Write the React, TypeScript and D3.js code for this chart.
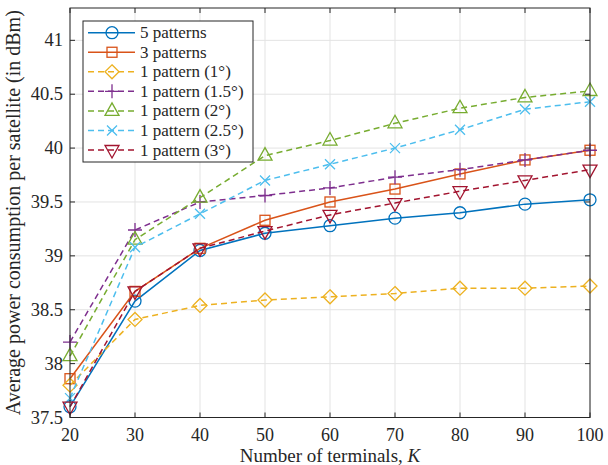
import React from "react";
import * as d3 from "d3";

const terminals = [20, 30, 40, 50, 60, 70, 80, 90, 100];

const fivePatterns = [37.6, 38.58, 39.05, 39.21, 39.28, 39.35, 39.4, 39.48, 39.52];
const threePatterns = [37.86, 38.67, 39.07, 39.33, 39.5, 39.62, 39.76, 39.89, 39.98];
const onePattern1 = [37.8, 38.41, 38.54, 38.59, 38.62, 38.65, 38.7, 38.7, 38.72];
const onePattern15 = [38.2, 39.24, 39.5, 39.56, 39.63, 39.73, 39.8, 39.89, 39.98];
const onePattern2 = [38.07, 39.15, 39.54, 39.93, 40.07, 40.23, 40.37, 40.47, 40.53];
const onePattern25 = [37.68, 39.08, 39.39, 39.7, 39.85, 40.0, 40.17, 40.36, 40.43];
const onePattern3 = [37.6, 38.67, 39.07, 39.23, 39.38, 39.49, 39.6, 39.7, 39.8];

const xTicks = [20, 30, 40, 50, 60, 70, 80, 90, 100];
const yTicks = [37.5, 38, 38.5, 39, 39.5, 40, 40.5, 41];

type Marker = "circle" | "square" | "diamond" | "plus" | "triangle" | "cross" | "down";

const series: { name: string; values: number[]; color: string; dashed: boolean; marker: Marker }[] = [
  { name: "5 patterns", values: fivePatterns, color: "#0072BD", dashed: false, marker: "circle" },
  { name: "3 patterns", values: threePatterns, color: "#D95319", dashed: false, marker: "square" },
  { name: "1 pattern (1°)", values: onePattern1, color: "#EDB120", dashed: true, marker: "diamond" },
  { name: "1 pattern (1.5°)", values: onePattern15, color: "#7E2F8E", dashed: true, marker: "plus" },
  { name: "1 pattern (2°)", values: onePattern2, color: "#77AC30", dashed: true, marker: "triangle" },
  { name: "1 pattern (2.5°)", values: onePattern25, color: "#4DBEEE", dashed: true, marker: "cross" },
  { name: "1 pattern (3°)", values: onePattern3, color: "#A2142F", dashed: true, marker: "down" },
];

const W = 608;
const H = 465;
const m = { left: 70, right: 18, top: 8, bottom: 47.5 };
const font = '"Liberation Serif", "DejaVu Serif", serif';

function MarkerShape({ kind, x, y, color }: { kind: Marker; x: number; y: number; color: string }) {
  const p = { fill: "none", stroke: color, strokeWidth: 1.3 };
  switch (kind) {
    case "circle":
      return <circle cx={x} cy={y} r={6} {...p} />;
    case "square":
      return <rect x={x - 5} y={y - 5} width={10} height={10} {...p} />;
    case "diamond":
      return <path d={`M${x},${y - 7}L${x + 7},${y}L${x},${y + 7}L${x - 7},${y}Z`} {...p} />;
    case "plus":
      return <path d={`M${x - 7},${y}H${x + 7}M${x},${y - 7}V${y + 7}`} {...p} />;
    case "cross":
      return <path d={`M${x - 5},${y - 5}L${x + 5},${y + 5}M${x - 5},${y + 5}L${x + 5},${y - 5}`} {...p} />;
    case "triangle":
      return <path d={`M${x},${y - 8}L${x + 7},${y + 4.5}L${x - 7},${y + 4.5}Z`} {...p} />;
    case "down":
      return <path d={`M${x},${y + 8}L${x + 7},${y - 4.5}L${x - 7},${y - 4.5}Z`} {...p} />;
  }
}

export default function App() {
  const x = d3.scaleLinear().domain([20, 100]).range([m.left, W - m.right]);
  const y = d3.scaleLinear().domain([37.5, 41.3]).range([H - m.bottom, m.top]);
  const line = d3
    .line<number>()
    .x((_, i) => x(terminals[i]))
    .y((d) => y(d));

  const x0 = m.left;
  const x1 = W - m.right;
  const y0 = H - m.bottom;
  const y1 = m.top;

  const lg = { x: 83, y: 21, w: 170, h: 141, row: 19.55 };

  return (
    <svg width={W} height={H} style={{ position: "absolute", left: 0, top: 0, background: "#fff", fontFamily: font }}>
      {/* grid */}
      {xTicks.map((t) => (
        <line key={"gx" + t} x1={x(t)} x2={x(t)} y1={y0} y2={y1} stroke="#e3e3e3" strokeWidth={1} />
      ))}
      {yTicks.map((t) => (
        <line key={"gy" + t} x1={x0} x2={x1} y1={y(t)} y2={y(t)} stroke="#e3e3e3" strokeWidth={1} />
      ))}

      {/* series */}
      {series.map((s) => (
        <g key={s.name}>
          <path
            d={line(s.values) ?? ""}
            fill="none"
            stroke={s.color}
            strokeWidth={1.5}
            strokeDasharray={s.dashed ? "6,4" : undefined}
          />
          {s.values.map((v, i) => (
            <MarkerShape key={i} kind={s.marker} x={x(terminals[i])} y={y(v)} color={s.color} />
          ))}
        </g>
      ))}

      {/* axes box + ticks */}
      <rect x={x0} y={y1} width={x1 - x0} height={y0 - y1} fill="none" stroke="#262626" strokeWidth={1} />
      {xTicks.map((t) => (
        <g key={"tx" + t}>
          <line x1={x(t)} x2={x(t)} y1={y0} y2={y0 - 5} stroke="#262626" />
          <line x1={x(t)} x2={x(t)} y1={y1} y2={y1 + 5} stroke="#262626" />
          <text x={x(t)} y={y0 + 23} textAnchor="middle" fontSize={18} fill="#262626">
            {t}
          </text>
        </g>
      ))}
      {yTicks.map((t) => (
        <g key={"ty" + t}>
          <line x1={x0} x2={x0 + 5} y1={y(t)} y2={y(t)} stroke="#262626" />
          <line x1={x1} x2={x1 - 5} y1={y(t)} y2={y(t)} stroke="#262626" />
          <text x={x0 - 7} y={y(t) + 6} textAnchor="end" fontSize={18.5} fill="#262626">
            {t}
          </text>
        </g>
      ))}

      {/* axis labels */}
      <text x={(x0 + x1) / 2} y={H - 3} textAnchor="middle" fontSize={19} fill="#262626">
        Number of terminals, <tspan fontStyle="italic">K</tspan>
      </text>
      <text
        transform={`translate(20,${(y0 + y1) / 2}) rotate(-90)`}
        textAnchor="middle"
        fontSize={20}
        fill="#262626"
      >
        Average power consumption per satellite (in dBm)
      </text>

      {/* legend */}
      <rect x={lg.x} y={lg.y} width={lg.w} height={lg.h} fill="#fff" stroke="#262626" strokeWidth={1} />
      {series.map((s, i) => {
        const cy = lg.y + 11.7 + i * lg.row;
        return (
          <g key={"lg" + s.name}>
            <line
              x1={lg.x + 5}
              x2={lg.x + 52}
              y1={cy}
              y2={cy}
              stroke={s.color}
              strokeWidth={1.5}
              strokeDasharray={s.dashed ? "6,4" : undefined}
            />
            <MarkerShape kind={s.marker} x={lg.x + 29} y={cy} color={s.color} />
            <text x={lg.x + 57} y={cy + 5.5} fontSize={17} fill="#262626">
              {s.name}
            </text>
          </g>
        );
      })}
    </svg>
  );
}
